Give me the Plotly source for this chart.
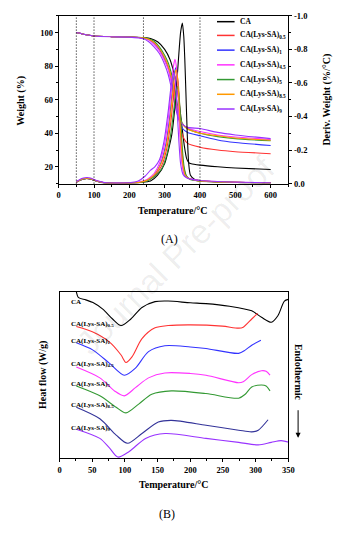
import plotly.graph_objects as go

# ---------------- Panel A : TG / DTG ----------------
names = ["CA", "CA(Lys-SA)<sub>0.5</sub>", "CA(Lys-SA)<sub>1</sub>", "CA(Lys-SA)<sub>4.5</sub>",
         "CA(Lys-SA)<sub>5</sub>", "CA(Lys-SA)<sub>8.5</sub>", "CA(Lys-SA)<sub>9</sub>"]
colors_a = ["#000000", "#ff3333", "#3333ff", "#ff33ff", "#339933", "#ff9900", "#9933ff"]

# weight (%) curves
wT_CA = [50, 70, 100, 150, 200, 240, 260, 280, 300, 315, 325, 335, 343, 350, 356, 362, 368, 375, 400, 450, 500, 600]
wW_CA = [100, 99, 98, 97.6, 97.4, 97, 96.5, 94.5, 90, 84, 77, 67, 55, 42, 32, 25, 22.5, 21.8, 21, 20, 19.3, 18.4]
wT = [50, 70, 100, 150, 200, 240, 255, 270, 285, 300, 310, 318, 325, 332, 340, 350, 365, 400, 450, 500, 600]
wW_05 = [100, 99, 98, 97.6, 97.4, 96.9, 96, 94, 90.5, 85, 80, 74, 67, 58.5, 48.5, 39, 34, 31.7, 30, 29, 27.8]
wW_1 = [100, 99, 98, 97.6, 97.4, 96.8, 95.8, 93.5, 90, 84, 79, 72.5, 65.5, 57.5, 49, 43, 40.5, 38.5, 36, 34.5, 32.7]
wW_45 = [100, 99, 98, 97.6, 97.4, 96.8, 95.5, 93, 89, 83, 78, 71, 64, 56, 49.5, 45.5, 43, 41, 39, 37.8, 36.2]
wW_5 = [100, 99, 98, 97.6, 97.4, 97, 96.3, 94.8, 91.5, 86.5, 82, 76.5, 70, 62, 53, 46, 42.5, 40, 38, 36.8, 35.5]
wW_85 = [100, 99, 98, 97.6, 97.4, 96.9, 96, 94, 90.5, 85, 80, 74, 67, 59, 51, 45.5, 42.5, 40, 38.5, 37.2, 35.8]
wW_9 = [100, 99, 98, 97.5, 97.3, 96.3, 94.5, 91.5, 87.5, 81, 75, 68, 61, 54, 48.5, 45.5, 43.5, 42.8, 40.5, 39, 36.8]

# DTG (%/°C) curves
dT_CA = [50, 60, 70, 80, 90, 100, 115, 130, 160, 200, 230, 260, 280, 300, 320, 330, 339, 345, 350, 354, 357, 360, 364, 368, 373, 385, 400, 450, 500, 600]
dD_CA = [-0.008, -0.02, -0.028, -0.03, -0.027, -0.02, -0.01, -0.004, -0.002, -0.003, -0.006, -0.015, -0.05, -0.12, -0.29, -0.48, -0.74, -0.9, -0.957, -0.88, -0.74, -0.55, -0.29, -0.12, -0.05, -0.025, -0.018, -0.01, -0.007, -0.004]
dT_05 = [50, 60, 70, 80, 90, 100, 115, 130, 160, 200, 230, 250, 270, 290, 305, 317, 325, 330, 334, 338, 343, 348, 353, 360, 370, 385, 400, 450, 500, 600]
dD_05 = [-0.009, -0.02, -0.028, -0.031, -0.028, -0.02, -0.011, -0.004, -0.002, -0.003, -0.007, -0.018, -0.045, -0.1, -0.2, -0.36, -0.52, -0.61, -0.65, -0.61, -0.44, -0.24, -0.11, -0.05, -0.028, -0.02, -0.015, -0.01, -0.007, -0.004]
dT_1 = [50, 60, 70, 80, 90, 100, 115, 130, 160, 200, 230, 250, 270, 287, 302, 314, 322, 327, 331, 335, 340, 345, 350, 357, 367, 382, 400, 450, 500, 600]
dD_1 = [-0.009, -0.02, -0.028, -0.031, -0.028, -0.02, -0.011, -0.004, -0.002, -0.003, -0.008, -0.02, -0.05, -0.11, -0.22, -0.39, -0.56, -0.65, -0.69, -0.65, -0.48, -0.27, -0.12, -0.05, -0.03, -0.022, -0.016, -0.01, -0.007, -0.004]
dT_45 = [50, 60, 70, 80, 90, 100, 115, 130, 160, 200, 230, 250, 270, 285, 300, 312, 320, 325, 329, 333, 338, 343, 348, 355, 365, 380, 400, 450, 500, 600]
dD_45 = [-0.01, -0.022, -0.03, -0.033, -0.03, -0.022, -0.012, -0.005, -0.003, -0.004, -0.01, -0.025, -0.06, -0.12, -0.24, -0.42, -0.6, -0.7, -0.74, -0.7, -0.52, -0.3, -0.14, -0.06, -0.035, -0.025, -0.018, -0.012, -0.008, -0.005]
dT_5 = [50, 60, 70, 80, 90, 100, 115, 130, 160, 200, 230, 250, 270, 292, 307, 319, 327, 332, 336, 340, 345, 350, 355, 362, 372, 387, 400, 450, 500, 600]
dD_5 = [-0.009, -0.02, -0.027, -0.03, -0.027, -0.02, -0.011, -0.004, -0.002, -0.003, -0.006, -0.016, -0.04, -0.09, -0.18, -0.32, -0.46, -0.54, -0.58, -0.54, -0.39, -0.21, -0.1, -0.045, -0.025, -0.018, -0.014, -0.009, -0.006, -0.004]
dT_85 = [50, 60, 70, 80, 90, 100, 115, 130, 160, 200, 230, 250, 270, 288, 303, 315, 323, 328, 332, 336, 341, 346, 351, 358, 368, 383, 400, 450, 500, 600]
dD_85 = [-0.009, -0.021, -0.029, -0.032, -0.029, -0.021, -0.011, -0.004, -0.002, -0.003, -0.008, -0.02, -0.05, -0.11, -0.21, -0.38, -0.55, -0.64, -0.68, -0.64, -0.47, -0.26, -0.12, -0.05, -0.03, -0.022, -0.016, -0.01, -0.007, -0.004]
dT_9 = [50, 60, 70, 80, 90, 100, 115, 130, 160, 200, 225, 245, 260, 272, 285, 298, 310, 318, 322, 326, 330, 335, 340, 345, 352, 362, 377, 400, 450, 500, 600]
dD_9 = [-0.012, -0.025, -0.033, -0.036, -0.033, -0.025, -0.014, -0.006, -0.003, -0.005, -0.015, -0.045, -0.08, -0.1, -0.14, -0.25, -0.43, -0.58, -0.63, -0.66, -0.62, -0.45, -0.26, -0.12, -0.055, -0.035, -0.025, -0.018, -0.012, -0.008, -0.005]

weight_series = [(wT_CA, wW_CA), (wT, wW_05), (wT, wW_1), (wT, wW_45), (wT, wW_5), (wT, wW_85), (wT, wW_9)]
dtg_series = [(dT_CA, dD_CA), (dT_05, dD_05), (dT_1, dD_1), (dT_45, dD_45), (dT_5, dD_5), (dT_85, dD_85), (dT_9, dD_9)]
dotted_T = [50, 100, 240, 400]

a_xticks = [0, 100, 200, 300, 400, 500, 600]
a_yticks = [20, 40, 60, 80, 100]
a_y2ticks = [0.0, -0.2, -0.4, -0.6, -0.8, -1.0]
a_y2text = ["0.0", "-0.2", "-0.4", "-0.6", "-0.8", "-1.0"]

# ---------------- Panel B : DSC ----------------
names_b = ["CA", "CA(Lys-SA)<sub>0.5</sub>", "CA(Lys-SA)<sub>1</sub>", "CA(Lys-SA)<sub>4.5</sub>",
           "CA(Lys-SA)<sub>5</sub>", "CA(Lys-SA)<sub>8.5</sub>", "CA(Lys-SA)<sub>9</sub>"]
colors_b = ["#000000", "#ff3333", "#3333ff", "#ff33ff", "#339933", "#333399", "#9933ff"]

bT_CA = [25.5, 29, 40, 51, 66, 81, 94, 109, 126, 146, 166, 200, 224, 260, 294, 309, 324, 334, 344, 350]
bY_CA = [170, 163.7, 161.5, 158.7, 152, 142, 135.3, 142, 153.7, 159.7, 160.3, 158.5, 157.7, 155, 150.3, 143.7, 138.7, 145.3, 160.3, 162]
bT_05 = [25.5, 50, 76, 94, 101.5, 111, 126, 146, 166, 200, 249, 274, 281, 294, 303]
bY_05 = [134.3, 129, 118.7, 105.3, 97.7, 103.7, 122, 133, 135.3, 136, 134.7, 132.7, 133.7, 142, 147.7]
bT_1 = [25.5, 51, 76, 99, 116, 136, 161, 200, 224, 274, 284, 294, 308]
bY_1 = [117.7, 110.3, 97, 84.7, 92, 108.7, 114.7, 113.5, 112, 107, 110.3, 115.3, 120.3]
bT_45 = [25.5, 61.5, 84, 99, 116, 136, 161, 200, 224, 274, 281, 294, 309, 316, 322]
bY_45 = [93, 82, 68.7, 63.7, 72, 82, 87, 86.5, 84.7, 77, 78, 85.3, 89.3, 88.7, 84.7]
bT_5 = [25.5, 61.5, 86.5, 101.5, 121, 141, 171, 224, 274, 284, 294, 309, 316, 322]
bY_5 = [73.7, 63.7, 52, 46.3, 55.3, 65.3, 68.7, 66, 61.3, 65.3, 72.7, 74.7, 73.7, 68.7]
bT_85 = [25.5, 61.5, 86.5, 104, 126, 151, 171, 224, 274, 294, 304, 319]
bY_85 = [52, 40.3, 23.7, 15.3, 25.3, 37, 38.7, 33.7, 28.7, 27, 28.7, 39.3]
bT_9 = [25.5, 61.5, 76.5, 89, 106.5, 131.5, 161.5, 224, 274, 304, 324, 339, 351]
bY_9 = [29.7, 20.3, 10.3, 1.3, 7, 20.3, 25.3, 20.3, 16.3, 13.7, 16.3, 18, 16.3]
dsc_series = [(bT_CA, bY_CA), (bT_05, bY_05), (bT_1, bY_1), (bT_45, bY_45), (bT_5, bY_5), (bT_85, bY_85), (bT_9, bY_9)]
b_xticks = [0, 50, 100, 150, 200, 250, 300, 350]

# ---------------- figure ----------------
W, H = 351, 533
def px(xp):
    return xp / W
def py(yp):
    return 1 - yp / H

SERIF = "Liberation Serif"
tickfont = dict(family=SERIF, size=8.5, color="black", weight="bold")
fig = go.Figure()

for (t, w), c in zip(weight_series, colors_a):
    fig.add_trace(go.Scatter(x=t, y=w, mode="lines", line=dict(color=c, width=1.1, shape="spline", smoothing=0.6),
                             xaxis="x", yaxis="y", showlegend=False, hoverinfo="skip"))
for (t, d), c in zip(dtg_series, colors_a):
    fig.add_trace(go.Scatter(x=t, y=d, mode="lines", line=dict(color=c, width=1.1, shape="spline", smoothing=0.6),
                             xaxis="x", yaxis="y2", showlegend=False, hoverinfo="skip"))
for (t, y), c in zip(dsc_series, colors_b):
    fig.add_trace(go.Scatter(x=t, y=y, mode="lines", line=dict(color=c, width=1.1, shape="spline", smoothing=0.8),
                             xaxis="x2", yaxis="y3", showlegend=False, hoverinfo="skip"))

shapes = []
for t in dotted_T:
    shapes.append(dict(type="line", xref="x", yref="y domain", x0=t, x1=t, y0=0, y1=1,
                       line=dict(color="black", width=1, dash="1px,2px")))

annotations = []
# manual legend for panel A
leg_y = [17, 31, 46, 61, 76, 91, 106]
for n, c, yy in zip(names, colors_a, leg_y):
    shapes.append(dict(type="line", xref="paper", yref="paper", x0=px(220), x1=px(238), y0=py(yy), y1=py(yy),
                       line=dict(color=c, width=1.5)))
    annotations.append(dict(text=n, x=px(241), y=py(yy), xref="paper", yref="paper", xanchor="left",
                            yanchor="middle", showarrow=False,
                            font=dict(family=SERIF, size=7.5, color="black", weight="bold")))

# labels for panel B
lab_y = [303, 325, 342, 366, 386, 408, 431]
for n, yy in zip(names_b, lab_y):
    annotations.append(dict(text=n, x=px(69), y=py(yy), xref="paper", yref="paper", xanchor="left",
                            yanchor="middle", showarrow=False,
                            font=dict(family=SERIF, size=7, color="black", weight="bold")))

titlefont = dict(family=SERIF, size=10, color="black", weight="bold")
def ann(text, x, y, font, angle=0):
    return dict(text=text, x=px(x), y=py(y), xref="paper", yref="paper", showarrow=False,
                xanchor="center", yanchor="middle", textangle=angle, font=font)

annotations += [
    ann("Temperature/°C", 175, 209, titlefont),
    ann("Weight (%)", 20, 98, titlefont, -90),
    ann("Deriv. Weight (%/°C)", 333, 96, titlefont, -90),
    ann("(A)", 171, 238, dict(family=SERIF, size=12, color="black")),
    ann("Temperature/°C", 176, 489, titlefont),
    ann("Heat flow (W/g)", 42, 377, titlefont, -90),
    ann("Endothermic", 303, 374, titlefont, 90),
    ann("(B)", 169, 519, dict(family=SERIF, size=12, color="black")),
    ann("Journal Pre-proof", 178, 255, dict(family="Liberation Sans", size=34, color="rgba(0,0,0,0.07)"), -45),
    dict(text="", x=px(303), y=py(441), xref="paper", yref="paper", showarrow=True, ax=0, ay=-29,
         arrowhead=2, arrowsize=1, arrowwidth=1, arrowcolor="black"),
]

axis_common = dict(showgrid=False, zeroline=False, showline=True, linecolor="black", linewidth=1,
                   ticks="outside", ticklen=3, tickwidth=1, tickcolor="black", tickfont=tickfont)

fig.update_layout(
    width=W, height=H, margin=dict(l=0, r=0, t=0, b=0),
    paper_bgcolor="white", plot_bgcolor="white", showlegend=False,
    xaxis=dict(domain=[px(58), px(293)], range=[0, 650], anchor="y", tickvals=a_xticks, mirror=True,
               minor=dict(dtick=50, tick0=0, ticks="outside", ticklen=2, tickcolor="black"), **axis_common),
    yaxis=dict(domain=[py(182), py(11)], range=[10, 110], anchor="x", tickvals=a_yticks,
               minor=dict(dtick=10, tick0=0, ticks="outside", ticklen=2, tickcolor="black"), **axis_common),
    yaxis2=dict(overlaying="y", side="right", anchor="x", range=[0, -1.0], tickvals=a_y2ticks, ticktext=a_y2text,
                minor=dict(dtick=0.1, tick0=0, ticks="outside", ticklen=2, tickcolor="black"), **axis_common),
    xaxis2=dict(domain=[px(59), px(293)], range=[0, 350], anchor="y3", tickvals=b_xticks, mirror=True,
                minor=dict(dtick=25, tick0=0, ticks="outside", ticklen=2, tickcolor="black"), **axis_common),
    yaxis3=dict(domain=[py(462), py(292)], range=[0, 170], anchor="x2", showticklabels=False, ticks="",
                showgrid=False, zeroline=False, showline=True, linecolor="black", linewidth=1, mirror=True),
    shapes=shapes, annotations=annotations,
)

fig.write_html("out.html")
